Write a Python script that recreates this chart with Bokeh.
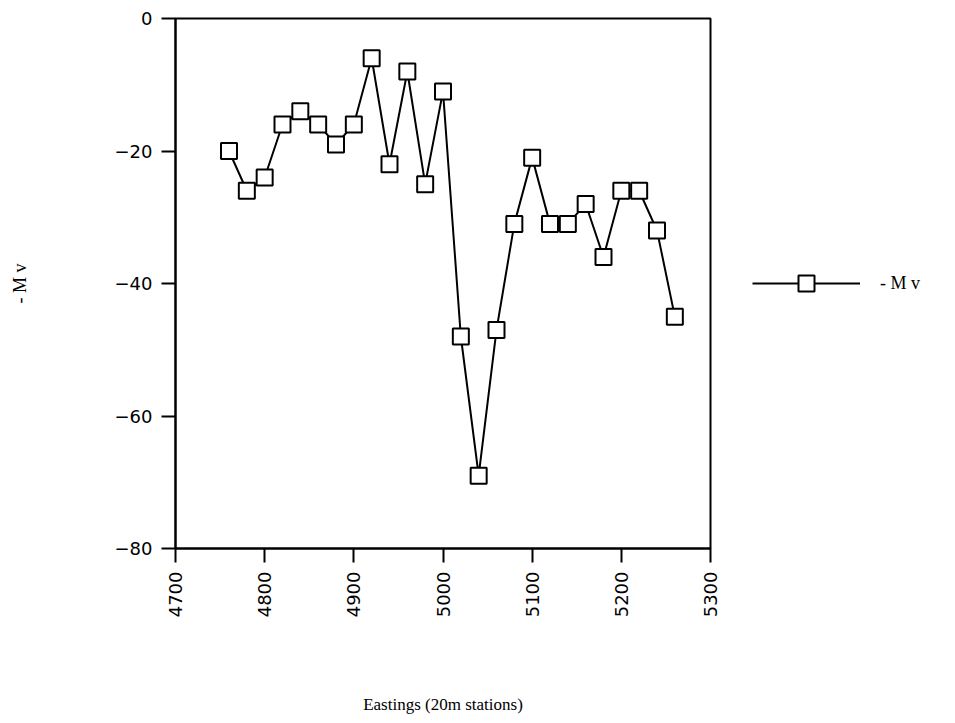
import math
from bokeh.plotting import figure
from bokeh.layouts import row
from bokeh.models import FixedTicker, Legend, LegendItem, ColumnDataSource
from bokeh.embed import file_html
from bokeh.resources import INLINE

# Self-potential survey line: stations every 20 m
eastings = [4760, 4780, 4800, 4820, 4840, 4860, 4880, 4900, 4920, 4940,
            4960, 4980, 5000, 5020, 5040, 5060, 5080, 5100, 5120, 5140,
            5160, 5180, 5200, 5220, 5240, 5260]
millivolts = [-20, -26, -24, -16, -14, -16, -19, -16, -6, -22,
              -8, -25, -11, -48, -69, -47, -31, -21, -31, -31,
              -28, -36, -26, -26, -32, -45]

x_ticks = [4700, 4800, 4900, 5000, 5100, 5200, 5300]
y_ticks = [-80, -60, -40, -20, 0]
series_name = "- M v"
x_title = "Eastings (20m stations)"
y_title = "- M v"

SERIF = "'Liberation Serif', 'Times New Roman', serif"
TICK_FONT = "'DejaVu Sans', sans-serif"

LINE_STYLE = dict(line_color="black", line_width=2)
MARKER_STYLE = dict(marker="square", size=16, fill_color="white",
                    line_color="black", line_width=2)

src = ColumnDataSource(dict(x=eastings, y=millivolts))

# ---- main profile plot ----
p = figure(width=720, height=723,
           x_range=(4700, 5300), y_range=(-80, 0),
           output_backend="svg", toolbar_location=None,
           min_border_left=175, min_border_right=10,
           min_border_top=18, min_border_bottom=175)

p.background_fill_color = "white"
p.border_fill_color = "white"
p.outline_line_color = "black"
p.outline_line_width = 2
p.xgrid.visible = False
p.ygrid.visible = False

p.line("x", "y", source=src, **LINE_STYLE)
p.scatter("x", "y", source=src, **MARKER_STYLE)

for ax in (p.xaxis[0], p.yaxis[0]):
    ax.axis_line_color = "black"
    ax.axis_line_width = 2
    ax.major_tick_line_color = "black"
    ax.major_tick_line_width = 2
    ax.major_tick_in = 0
    ax.major_tick_out = 14
    ax.minor_tick_line_color = None
    ax.major_label_text_font = TICK_FONT
    ax.major_label_text_font_size = "18px"
    ax.major_label_text_color = "black"
    ax.axis_label_text_font = SERIF
    ax.axis_label_text_font_size = "17px"
    ax.axis_label_text_font_style = "normal"
    ax.axis_label_text_color = "black"

p.xaxis.ticker = FixedTicker(ticks=x_ticks)
p.xaxis.major_label_orientation = math.pi / 2
p.xaxis.major_label_standoff = 9
p.xaxis.axis_label = x_title
p.xaxis.axis_label_standoff = 75

p.yaxis.ticker = FixedTicker(ticks=y_ticks)
p.yaxis.major_label_standoff = 9
p.yaxis.axis_label = y_title
p.yaxis.axis_label_text_font_size = "18px"
p.yaxis.axis_label_standoff = 82

# ---- legend strip to the right of the plot ----
q = figure(width=235, height=723, x_range=(0, 1), y_range=(0, 1),
           x_axis_type=None, y_axis_type=None,
           output_backend="svg", toolbar_location=None, min_border=0)
q.outline_line_color = None
q.grid.visible = False
q.background_fill_color = "white"
q.border_fill_color = "white"

# key renderers sit outside the strip's range so only the legend shows them
key_line = q.line(x=[-5, -4], y=[-5, -5], **LINE_STYLE)
key_mark = q.scatter(x=[-5], y=[-5], **MARKER_STYLE)

legend = Legend(items=[LegendItem(label=series_name,
                                  renderers=[key_line, key_mark])],
                location=(32, 245), margin=0, padding=0,
                glyph_width=108, glyph_height=40, label_standoff=20,
                label_text_font=SERIF, label_text_font_size="18px",
                label_text_color="black",
                border_line_color=None, background_fill_alpha=0)
q.add_layout(legend)

layout = row(p, q, spacing=0)
open("out.html", "w").write(file_html(layout, INLINE))
